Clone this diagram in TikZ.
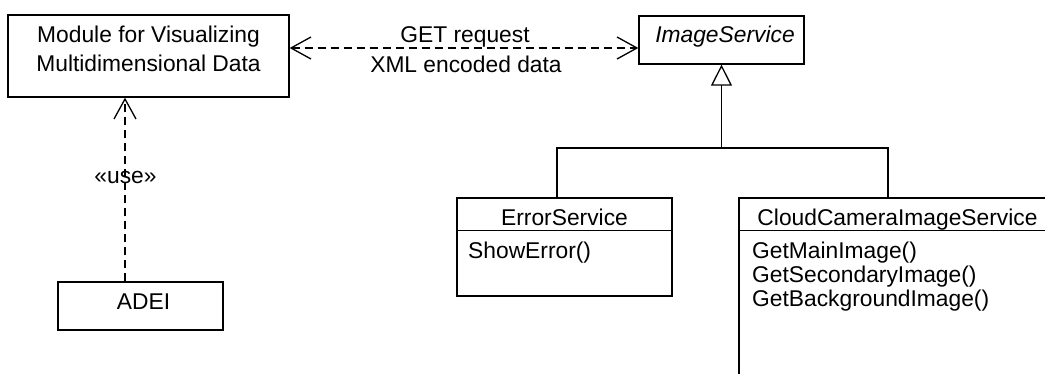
\documentclass[tikz,border=0pt]{standalone}
\usepackage{fontspec}
\setmainfont{Liberation Sans}
\usetikzlibrary{arrows.meta,calc}
\begin{document}
\begin{tikzpicture}[x=1pt,y=-1pt,
  every node/.style={font=\fontsize{22.8}{29}\selectfont, inner sep=0pt, text=black},
  box/.style={draw=black, line width=1.3pt, fill=white},
  conn/.style={draw=black, line width=1.3pt},
  dep/.style={conn, dash pattern=on 8pt off 5pt}
]
\useasboundingbox (0,0) rectangle (1045,374);
\clip (0,0) rectangle (1045,374);
% boxes
\node[box, minimum width=281pt, minimum height=82pt] (mod) at (148.5,56) {};
\node[align=center] (modt) at (148.5,49.2) {Module for Visualizing\\Multidimensional Data};
\node[box, minimum width=165pt, minimum height=48pt] (img) at (721.5,40) {};
\node[anchor=base, font=\fontsize{22.8}{29}\selectfont\itshape] (imgt) at (725,43) {ImageService};
\node[box, minimum width=165pt, minimum height=48pt] (adei) at (140.5,306) {};
\node[anchor=base] (adeit) at (143.5,309) {ADEI};
\node[box, minimum width=215pt, minimum height=98pt] (err) at (564.5,247) {};
\draw[conn] ([yshift=-33pt]err.north west) -- ([yshift=-33pt]err.north east);
\node[anchor=base] (errt) at (564.5,226) {ErrorService};
\node[anchor=base west] (errm) at (468,259) {ShowError()};
\node[box, minimum width=317pt, minimum height=222pt] (cloud) at (897.5,309) {};
\draw[conn] ([yshift=-33pt]cloud.north west) -- ([yshift=-33pt]cloud.north east);
\node[anchor=base] (cloudt) at (897.5,226) {CloudCameraImageService};
\node[anchor=base west] (m1) at (752,259) {GetMainImage()};
\node[anchor=base west] (m2) at (752,283) {GetSecondaryImage()};
\node[anchor=base west] (m3) at (752,307) {GetBackgroundImage()};
% connectors
\draw[dep, {Straight Barb[length=20pt,width=22pt]}-{Straight Barb[length=20pt,width=22pt]}] ([yshift=8pt]mod.east) -- ([yshift=-8pt]img.west);
\node[anchor=base] (get) at (465,43) {GET request};
\node[anchor=base] (xml) at (466,73) {XML encoded data};
\draw[dep, -{Straight Barb[length=20pt,width=22pt]}] ([xshift=-15.5pt]adei.north) -- ([xshift=-15.5pt]adei.north |- mod.south);
\node[anchor=base] (use) at (125.5,184) {«use»};
\coordinate (junc) at (721.5,148);
\draw[conn] ([xshift=-7.5pt]err.north) |- (junc) -| ([xshift=-9.5pt]cloud.north);
\draw[conn, -{Triangle[open, length=21pt, width=21pt]}] (junc) -- (img.south);
\end{tikzpicture}
\end{document}
